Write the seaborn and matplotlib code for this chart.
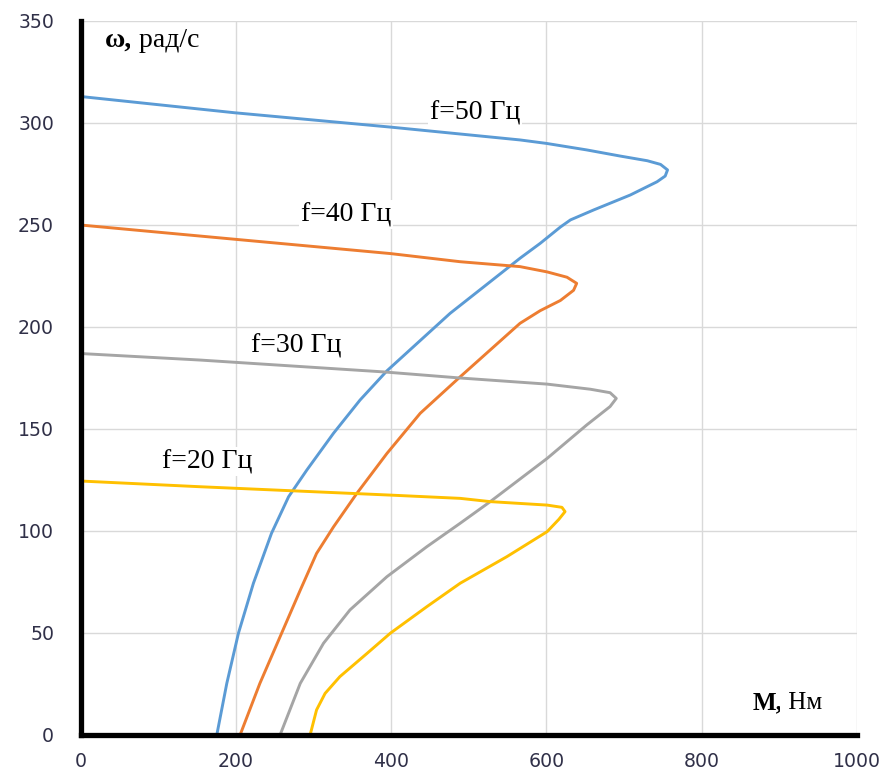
import matplotlib
matplotlib.use("Agg")
import matplotlib.pyplot as plt
import seaborn as sns
import pandas as pd

# ---- data (M in N·m, omega in rad/s) ----
m50 = [0, 199, 399, 566, 600, 652, 695, 730, 747, 756, 753, 742.5, 708, 661, 631, 618, 592, 566,
       476, 394.6, 360, 325.8, 291.5, 268, 246, 222.7, 203.4, 188.4, 175.5]
w50 = [313, 305, 298, 291.7, 290, 286.8, 283.8, 281.5, 279.7, 277, 274, 271.2, 264.7, 257.4, 252.5, 249, 241, 233.7,
       206.7, 178.5, 164.2, 147.9, 129.9, 116.8, 98.9, 74.4, 49.9, 25.3, 0]

m40 = [0, 199, 399, 489, 566, 601, 626.5, 639, 635, 618, 592, 566, 489, 437.5, 394.6, 356, 325.8, 304,
       283, 259, 231, 205.5]
w40 = [250, 243, 236, 232, 229.6, 227, 224.4, 221.4, 218, 213, 208, 201.8, 175.6, 157.7, 138, 118.5, 102, 89,
       71, 49.9, 25.3, 0]

m30 = [0, 154, 390, 489, 601, 656.6, 682, 690, 682, 652, 601, 527.7, 489, 446, 394.6, 347, 313, 283, 257]
w30 = [187, 183.8, 178, 175, 172, 169.5, 167.8, 165, 161, 152, 135.6, 114.4, 103.8, 92.3, 77.6, 61.3, 45, 25.3, 0]

m20 = [0, 154, 399, 489, 527.7, 601, 620, 624, 616, 601, 549, 489, 446, 399, 369, 334, 315, 304, 295.7]
w20 = [124.5, 121.7, 117.6, 116, 114.4, 112.7, 111.6, 109.5, 105.7, 99.7, 87.4, 74.4, 62.9, 49.9, 40, 28.6, 20.4, 12.3, 0]

series_labels = ["f=50 Гц", "f=40 Гц", "f=30 Гц", "f=20 Гц"]
x_ticks = [0, 200, 400, 600, 800, 1000]
y_ticks = [0, 50, 100, 150, 200, 250, 300, 350]

colors = ["#5B9BD5", "#ED7D31", "#A5A5A5", "#FFC000"]

sns.set_theme(style="whitegrid")
plt.rcParams['font.family'] = ['DejaVu Sans']

fig = plt.figure(figsize=(8.86, 7.73), dpi=100)
ax = fig.add_axes([80.5 / 886, 1 - 735 / 773, (857 - 80.5) / 886, (735 - 21) / 773])

for mx, wy, c in zip([m50, m40, m30, m20], [w50, w40, w30, w20], colors):
    df = pd.DataFrame({"M": mx, "w": wy})
    sns.lineplot(data=df, x="M", y="w", sort=False, estimator=None, ax=ax,
                 color=c, linewidth=2.1, zorder=3)
for line in ax.lines:
    line.set_solid_joinstyle("round")
    line.set_solid_capstyle("round")

ax.set_xlim(0, 1000)
ax.set_ylim(0, 350)
ax.set_xticks(x_ticks)
ax.set_yticks(y_ticks)
ax.set_xlabel("")
ax.set_ylabel("")
ax.grid(True, color="#D9D9D9", linewidth=1.0)
ax.set_axisbelow(True)

for s in ["top", "right"]:
    ax.spines[s].set_visible(False)
for s in ["left", "bottom"]:
    ax.spines[s].set_visible(True)
    ax.spines[s].set_color("black")
    ax.spines[s].set_linewidth(3.8)
    ax.spines[s].set_zorder(4)

ax.tick_params(axis="both", length=0, labelsize=13.6, labelcolor="#303048")
ax.tick_params(axis="y", pad=19)
ax.tick_params(axis="x", pad=12)

serif = ["Liberation Serif", "DejaVu Serif"]
box = dict(facecolor="white", edgecolor="none", pad=1.5)

label_pos = [(508, 305), (342, 255), (278, 190.7), (163, 134)]
for (tx, ty), lab in zip(label_pos, series_labels):
    ax.text(tx, ty, lab, family=serif, fontsize=20, color="black",
            ha="center", va="center", bbox=box, zorder=5)

t1 = ax.text(31, 340.5, "ω,", family=serif, fontsize=20, fontweight="bold",
             color="black", ha="left", va="center", bbox=box, zorder=5)
ax.annotate(" рад/с", xy=(1, 0.5), xycoords=t1, family=serif, fontsize=20,
            color="black", ha="left", va="center", bbox=box, zorder=5)

t2 = ax.text(865, 15.7, "М,", family=serif, fontsize=18, fontweight="bold",
             color="black", ha="left", va="center", bbox=box, zorder=5)
ax.annotate(" Нм", xy=(1, 0.5), xycoords=t2, family=serif, fontsize=18,
            color="black", ha="left", va="center", bbox=box, zorder=5)

fig.savefig("out.png", dpi=100, facecolor="white")
